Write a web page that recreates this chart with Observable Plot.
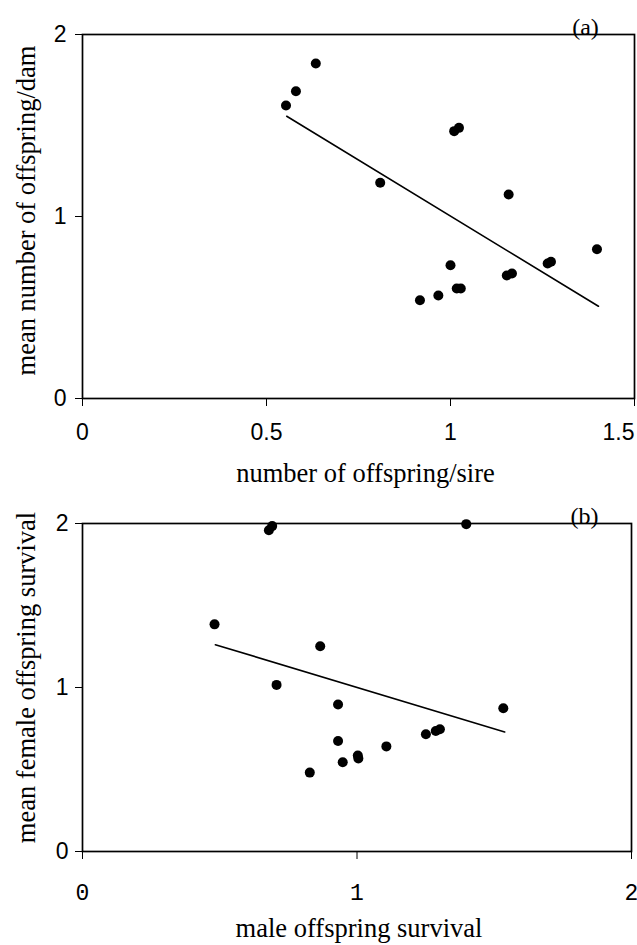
<!DOCTYPE html>
<html>
<head>
<meta charset="utf-8">
<script src="https://cdn.jsdelivr.net/npm/d3@7"></script>
<script src="https://cdn.jsdelivr.net/npm/@observablehq/plot@0.6"></script>
<style>
  html, body { margin: 0; padding: 0; background: #fff; }
  #wrap { width: 637px; height: 945px; position: relative; overflow: hidden; }
  #wrap svg { display: block; background: #fff; }
</style>
</head>
<body>
<div id="wrap"></div>
<script>
// ---- Panel (a) data ----
const xA = [0.553, 0.580, 0.634, 0.809, 1.010, 1.023, 1.158, 1.398, 1.000, 0.917, 0.967, 1.017, 1.028, 1.153, 1.167, 1.264, 1.273];
const yA = [1.610, 1.688, 1.841, 1.185, 1.469, 1.487, 1.121, 0.820, 0.732, 0.540, 0.566, 0.604, 0.604, 0.676, 0.687, 0.742, 0.751];
const fitAx = [0.555, 1.402];
const fitAy = [1.551, 0.507];
const xTicksA = [0, 0.5, 1];
const xTicksAEnd = [1.5];
const yTicksA = [0, 1, 2];
const xTitleA = "number of offspring/sire";
const yTitleA = "mean number of offspring/dam";
const tagA = "(a)";

// ---- Panel (b) data ----
const xB = [0.679, 0.691, 1.398, 0.481, 0.866, 0.707, 0.931, 0.931, 0.948, 0.828, 1.003, 1.005, 1.107, 1.251, 1.287, 1.302, 1.533];
const yB = [1.959, 1.984, 1.996, 1.385, 1.252, 1.016, 0.896, 0.674, 0.544, 0.481, 0.585, 0.567, 0.641, 0.715, 0.735, 0.745, 0.874];
const fitBx = [0.484, 1.538];
const fitBy = [1.261, 0.729];
const xTicksB = [0, 1, 2];
const yTicksB = [0, 1, 2];
const xTitleB = "male offspring survival";
const yTitleB = "mean female offspring survival";
const tagB = "(b)";

const ptsA = xA.map((x, i) => ({x, y: yA[i]}));
const ptsB = xB.map((x, i) => ({x, y: yB[i]}));
const lineA = fitAx.map((x, i) => ({x, y: fitAy[i]}));
const lineB = fitBx.map((x, i) => ({x, y: fitBy[i]}));

const SANS = "Liberation Sans, Arial, sans-serif";
const MONO = "Liberation Mono, Courier New, monospace";
const SERIF = "Liberation Serif, Times New Roman, serif";
const TICK = 23;
const TITLE = 26.5;

const plotA = Plot.plot({
  width: 637, height: 490,
  marginLeft: 82, marginRight: 3, marginTop: 34, marginBottom: 92,
  x: {domain: [0, 1.5]},
  y: {domain: [0, 2]},
  style: {background: "#fff", color: "#000"},
  marks: [
    Plot.axisY(yTicksA, {tickSize: 7, tickPadding: 9, tickFormat: d => String(d), fontSize: TICK, fontFamily: SANS, label: null}),
    Plot.axisX(xTicksA.concat(xTicksAEnd), {tickSize: 8, tickFormat: () => "", label: null}),
    Plot.text(xTicksA, {x: d => d, frameAnchor: "bottom", lineAnchor: "middle", dy: 34, text: d => String(d), fontSize: TICK, fontFamily: SANS, textAnchor: "middle"}),
    Plot.text(xTicksAEnd, {x: d => d, frameAnchor: "bottom", lineAnchor: "middle", dy: 34, text: d => String(d), fontSize: TICK, fontFamily: SANS, textAnchor: "end"}),
    Plot.frame({stroke: "#000", strokeWidth: 1.7}),
    Plot.line(lineA, {x: "x", y: "y", stroke: "#000", strokeWidth: 1.6}),
    Plot.dot(ptsA, {x: "x", y: "y", r: 5, fill: "#000", stroke: "none"}),
    Plot.text([yTitleA], {frameAnchor: "left", lineAnchor: "middle", rotate: -90, dx: -56, dy: -6, text: d => d, fontSize: TITLE, fontFamily: SERIF, textAnchor: "middle"}),
    Plot.text([xTitleA], {frameAnchor: "bottom", lineAnchor: "middle", dx: 7, dy: 75, text: d => d, fontSize: TITLE, fontFamily: SERIF, textAnchor: "middle"}),
    Plot.text([tagA], {frameAnchor: "top-right", lineAnchor: "bottom", dx: -49, dy: 0, text: d => d, fontSize: 24, fontFamily: SERIF, textAnchor: "middle"})
  ]
});

const plotB = Plot.plot({
  width: 637, height: 455,
  marginLeft: 82, marginRight: 6, marginTop: 33, marginBottom: 94,
  x: {domain: [0, 2]},
  y: {domain: [0, 2]},
  style: {background: "#fff", color: "#000"},
  marks: [
    Plot.axisY(yTicksB, {tickSize: 7, tickPadding: 7, tickFormat: d => String(d), fontSize: TICK, fontFamily: SANS, label: null}),
    Plot.axisX(xTicksB, {tickSize: 8, tickFormat: () => "", label: null}),
    Plot.text(xTicksB, {x: d => d, frameAnchor: "bottom", lineAnchor: "middle", dy: 41, text: d => String(d), fontSize: TICK, fontFamily: MONO, textAnchor: "middle"}),
    Plot.frame({stroke: "#000", strokeWidth: 1.7}),
    Plot.line(lineB, {x: "x", y: "y", stroke: "#000", strokeWidth: 1.6}),
    Plot.dot(ptsB, {x: "x", y: "y", r: 5, fill: "#000", stroke: "none"}),
    Plot.text([yTitleB], {frameAnchor: "left", lineAnchor: "middle", rotate: -90, dx: -56, dy: -10, text: d => d, fontSize: TITLE, fontFamily: SERIF, textAnchor: "middle"}),
    Plot.text([xTitleB], {frameAnchor: "bottom", lineAnchor: "middle", dx: 2, dy: 77, text: d => d, fontSize: TITLE, fontFamily: SERIF, textAnchor: "middle"}),
    Plot.text([tagB], {frameAnchor: "top-right", lineAnchor: "bottom", dx: -47, dy: 0, text: d => d, fontSize: 24, fontFamily: SERIF, textAnchor: "middle"})
  ]
});

const wrap = document.getElementById("wrap");
wrap.appendChild(plotA);
wrap.appendChild(plotB);
</script>
</body>
</html>
